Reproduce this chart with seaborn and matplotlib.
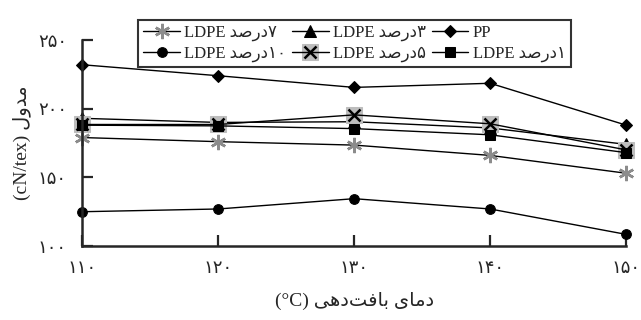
import matplotlib
matplotlib.use("Agg")
import matplotlib.pyplot as plt
import seaborn as sns
from matplotlib.legend_handler import HandlerTuple

# Datos
temps = [110, 120, 130, 140, 150]
pp = [232, 224, 215.5, 218.5, 188]
ldpe1 = [188, 187.5, 185.5, 181, 168]
ldpe3 = [193, 190, 190.5, 186, 174]
ldpe5 = [188.5, 188.5, 195.5, 189, 170]
ldpe7 = [179, 176, 173.5, 166, 153]
ldpe10 = [125, 127, 134.5, 127, 108.5]

x_ticks = [110, 120, 130, 140, 150]
x_labels = ["\u06f1\u06f1\u06f0", "\u06f1\u06f2\u06f0", "\u06f1\u06f3\u06f0",
            "\u06f1\u06f4\u06f0", "\u06f1\u06f5\u06f0"]
y_ticks = [100, 150, 200, 250]
y_labels = ["\u06f1\u06f0\u06f0", "\u06f1\u06f5\u06f0", "\u06f2\u06f0\u06f0", "\u06f2\u06f5\u06f0"]

# texto persa ya en orden visual (formas de presentación)
darsad = "\ufeaa\ufebb\ufead\ufea9"
lbl_pp = "PP"
lbl_1 = "LDPE " + darsad + "\u06f1"
lbl_3 = "LDPE " + darsad + "\u06f3"
lbl_5 = "LDPE " + darsad + "\u06f5"
lbl_7 = "LDPE " + darsad + "\u06f7"
lbl_10 = "LDPE " + darsad + "\u06f1\u06f0"
x_title = "(\u00b0C) \ufef0\ufeeb\ufea9\ufe96\ufed3\ufe8e\ufe91 \ufeef\ufe8e\ufee3\ufea9"
y_title = "(cN/tex) \ufedd\ufeed\ufeaa\ufee3"

sns.set_style("ticks")
plt.rcParams["font.family"] = ["Liberation Serif", "DejaVu Sans"]

fig = plt.figure(figsize=(6.41, 3.2), dpi=100)
ax = fig.add_axes([0.128, 0.231, 0.849, 0.644])

gray = "#8c8c8c"
common = dict(color="black", linewidth=1.0, markeredgecolor="black",
              ax=ax, clip_on=False)

l7 = sns.lineplot(x=temps, y=ldpe7, marker=(6, 2, 0), markersize=11,
                  color="black", linewidth=1.0, markeredgecolor=gray,
                  markeredgewidth=1.8, ax=ax, clip_on=False).lines[-1]
l10 = sns.lineplot(x=temps, y=ldpe10, marker="o", markersize=7, **common).lines[-1]
l3 = sns.lineplot(x=temps, y=ldpe3, marker="^", markersize=8, **common).lines[-1]
sq5 = sns.lineplot(x=temps, y=ldpe5, marker="s", markersize=12, linestyle="none",
                   markerfacecolor="#bdbdbd", markeredgecolor="#bdbdbd",
                   color="#bdbdbd", ax=ax, clip_on=False).lines[-1]
l5 = sns.lineplot(x=temps, y=ldpe5, marker="x", markersize=9,
                  markeredgewidth=1.8, **common).lines[-1]
lpp = sns.lineplot(x=temps, y=pp, marker="D", markersize=6.5, **common).lines[-1]
l1 = sns.lineplot(x=temps, y=ldpe1, marker="s", markersize=7, **common).lines[-1]

ax.set_xlim(110, 150)
ax.set_ylim(100, 250)
ax.set_xticks(x_ticks, labels=x_labels)
ax.set_yticks(y_ticks, labels=y_labels)
ax.tick_params(axis="both", direction="in", length=8, width=1.6, labelsize=13)
ax.tick_params(axis="x", pad=10)
ax.tick_params(axis="y", pad=11)
for side in ["top", "right"]:
    ax.spines[side].set_visible(False)
for side in ["left", "bottom"]:
    ax.spines[side].set_linewidth(1.8)

ax.set_xlabel(x_title, fontsize=14, labelpad=11)
ax.set_ylabel(y_title, fontsize=14, labelpad=5)

# leyenda: se llena por columnas
handles = [l7, l10, l3, (sq5, l5), lpp, l1]
labels = [lbl_7, lbl_10, lbl_3, lbl_5, lbl_pp, lbl_1]
leg = fig.legend(handles, labels, ncol=3, loc="upper center",
                 bbox_to_anchor=(0.553, 0.965), fontsize=12,
                 frameon=True, fancybox=False, edgecolor="black",
                 handlelength=2.2, handletextpad=0.25, columnspacing=0.35,
                 borderpad=0.3, labelspacing=0.3,
                 handler_map={tuple: HandlerTuple(ndivide=1)})
leg.get_frame().set_linewidth(1.5)

fig.savefig("out.png", dpi=100)
